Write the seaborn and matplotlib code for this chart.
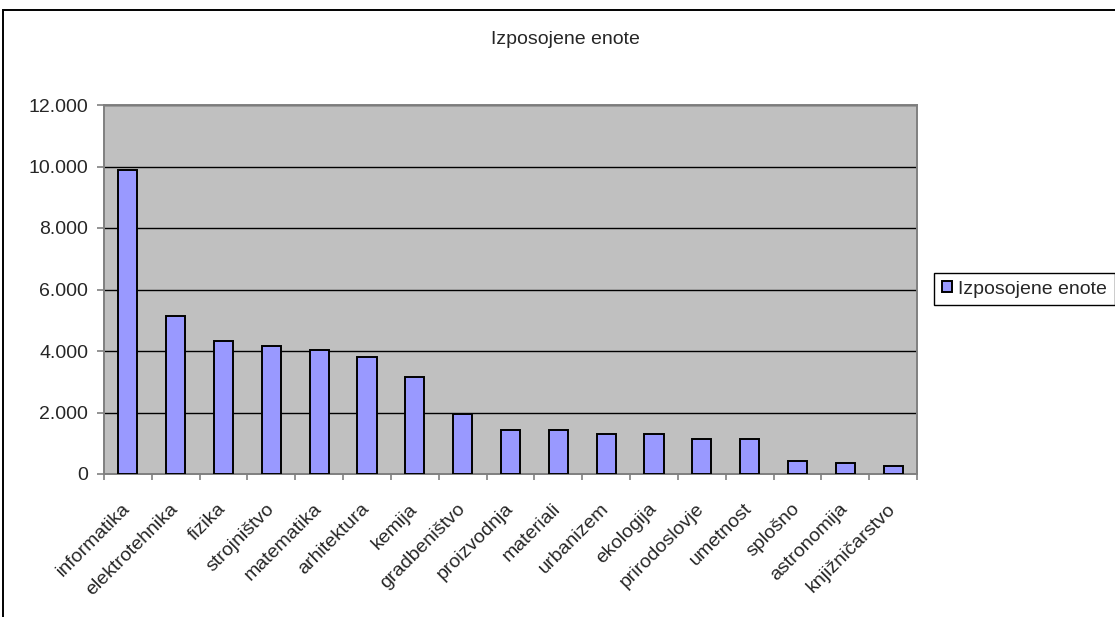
import matplotlib
matplotlib.use("Agg")
import matplotlib.pyplot as plt
import matplotlib.ticker as mticker
import matplotlib.transforms as mtransforms
from matplotlib.patches import Rectangle
import numpy as np
import pandas as pd
import seaborn as sns

# Data
categories = [
    "informatika", "elektrotehnika", "fizika", "strojništvo", "matematika",
    "arhitektura", "kemija", "gradbeništvo", "proizvodnja", "materiali",
    "urbanizem", "ekologija", "prirodoslovje", "umetnost", "splošno",
    "astronomija", "knjižničarstvo",
]
values = [
    9890, 5150, 4330, 4170, 4030,
    3820, 3140, 1950, 1440, 1440,
    1290, 1290, 1140, 1140, 420,
    360, 260,
]
series_name = "Izposojene enote"
y_ticks = [0, 2000, 4000, 6000, 8000, 10000, 12000]

W, H = 1115, 617
FS = 14


def main() -> None:
    sns.set_theme(style="white")
    plt.rcParams["font.family"] = ["Liberation Sans", "DejaVu Sans"]

    df = pd.DataFrame({"podrocje": categories, "enote": values})

    fig = plt.figure(figsize=(W / 100, H / 100), dpi=100)
    fig.patch.set_facecolor("white")
    ax = fig.add_axes([104 / W, 1 - 474 / H, (917 - 104) / W, (474 - 105) / H])
    ax.set_facecolor("#C0C0C0")

    sns.barplot(
        data=df, x="podrocje", y="enote", ax=ax,
        color="#9999FF", saturation=1, width=0.4,
        edgecolor="black", linewidth=1.4, label=series_name, zorder=3,
    )
    handles, labels = ax.get_legend_handles_labels()
    if ax.get_legend() is not None:
        ax.get_legend().remove()

    ax.set_ylim(0, 12000)
    ax.set_xlim(-0.5, len(categories) - 0.5)
    ax.set_yticks(y_ticks)
    ax.yaxis.set_major_formatter(
        mticker.FuncFormatter(lambda v, _: f"{int(v):,}".replace(",", "."))
    )
    ax.grid(axis="y", color="black", linewidth=1.0, zorder=1)
    ax.set_axisbelow(True)
    ax.set_xlabel("")
    ax.set_ylabel("")

    for side in ["left", "bottom", "top", "right"]:
        ax.spines[side].set_visible(True)
        ax.spines[side].set_color("#808080")
        ax.spines[side].set_linewidth(1.4)

    # ticks: outward on y, at category boundaries on x
    ax.tick_params(axis="y", direction="out", length=5, width=1.2, color="#808080",
                   labelsize=FS, pad=6.5, left=True)
    ax.set_xticks(np.arange(len(categories)))
    ax.set_xticklabels(categories, rotation=45, ha="right", va="top",
                       rotation_mode="anchor", fontsize=FS)
    ax.tick_params(axis="x", which="major", length=0, pad=19)
    shift = mtransforms.ScaledTranslation(-6 / 100, 0, fig.dpi_scale_trans)
    for lab in ax.get_xticklabels():
        lab.set_transform(lab.get_transform() + shift)
    ax.set_xticks(np.arange(-0.5, len(categories) + 0.5, 1), minor=True)
    ax.tick_params(axis="x", which="minor", direction="out", length=4.5,
                   width=1.2, color="#808080", bottom=True)

    fig.text(565 / W, 1 - 40 / H, series_name, ha="center", va="center",
             fontsize=FS)

    leg = fig.legend(
        handles, labels, loc="center left",
        bbox_to_anchor=(934 / W, 1 - 289 / H), fontsize=FS,
        frameon=True, fancybox=False, edgecolor="black", framealpha=1,
        handlelength=0.5, handleheight=0.5, handletextpad=0.35,
        borderpad=0.4, borderaxespad=0,
    )
    leg.get_frame().set_linewidth(1)

    # outer chart border
    fig.patches.append(Rectangle((3 / W, -0.1), 1.2, 1 - 10 / H + 0.1,
                                 transform=fig.transFigure, fill=False,
                                 edgecolor="black", linewidth=1.4))

    fig.savefig("out.png", dpi=100)


if __name__ == "__main__":
    main()
